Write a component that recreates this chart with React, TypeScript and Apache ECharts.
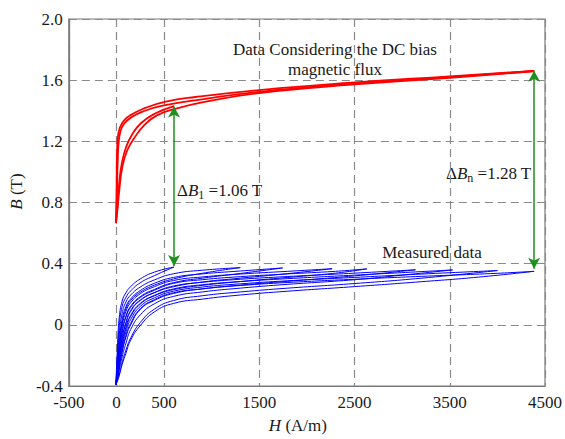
import React, { useEffect, useRef } from 'react';
import * as echarts from 'echarts';

// ---------- axis values ----------
const xTickValues = [-500, 0, 500, 1500, 2500, 3500, 4500];
const xMin = -500;
const xMax = 4500;
const yMin = -0.4;
const yMax = 2.0;
const yStep = 0.4;

// ---------- measured data (blue), [H, B] ----------
const blueL1u = [[-5, -0.39], [15, -0.09], [30, 0.05], [60, 0.155], [100, 0.21], [150, 0.25], [250, 0.3], [400, 0.345], [605, 0.378]];
const blueL1l = [[-5, -0.39], [15, -0.145], [30, -0.005], [60, 0.12], [100, 0.18], [150, 0.222], [250, 0.275], [400, 0.322], [605, 0.378]];
const blueL2u = [[-5, -0.39], [15, -0.195], [30, -0.06], [60, 0.075], [100, 0.15], [150, 0.195], [250, 0.247], [400, 0.294], [600, 0.334], [900, 0.357], [1300, 0.374]];
const blueL2l = [[-5, -0.39], [15, -0.245], [30, -0.13], [60, 0.01], [100, 0.105], [150, 0.159], [250, 0.213], [400, 0.26], [600, 0.3], [900, 0.337], [1300, 0.374]];
const blueL3u = [[-5, -0.39], [15, -0.23], [30, -0.105], [60, 0.035], [100, 0.12], [150, 0.17], [250, 0.224], [400, 0.272], [600, 0.31], [900, 0.333], [1300, 0.352], [1745, 0.372]];
const blueL3l = [[-5, -0.39], [15, -0.275], [30, -0.18], [60, -0.04], [100, 0.058], [150, 0.122], [250, 0.184], [400, 0.232], [600, 0.276], [900, 0.305], [1300, 0.336], [1745, 0.372]];
const blueL4u = [[-5, -0.39], [15, -0.258], [30, -0.15], [60, -0.01], [100, 0.088], [150, 0.145], [250, 0.203], [400, 0.25], [600, 0.29], [900, 0.313], [1300, 0.332], [1800, 0.35], [2265, 0.367]];
const blueL4l = [[-5, -0.39], [15, -0.3], [30, -0.22], [60, -0.09], [100, 0.01], [150, 0.088], [250, 0.159], [400, 0.21], [600, 0.249], [900, 0.28], [1300, 0.305], [1800, 0.335], [2265, 0.367]];
const blueL5u = [[-5, -0.39], [15, -0.28], [30, -0.19], [60, -0.055], [100, 0.05], [150, 0.115], [250, 0.178], [400, 0.226], [600, 0.271], [900, 0.295], [1300, 0.315], [1800, 0.333], [2300, 0.35], [2630, 0.366]];
const blueL5l = [[-5, -0.39], [15, -0.325], [30, -0.245], [60, -0.13], [100, -0.025], [150, 0.055], [250, 0.135], [400, 0.19], [600, 0.23], [900, 0.258], [1300, 0.283], [1800, 0.31], [2300, 0.338], [2630, 0.366]];
const blueL6u = [[-5, -0.39], [15, -0.295], [30, -0.215], [60, -0.085], [100, 0.015], [150, 0.095], [250, 0.162], [400, 0.212], [600, 0.254], [900, 0.278], [1300, 0.298], [1800, 0.316], [2500, 0.338], [3140, 0.36]];
const blueL6l = [[-5, -0.39], [15, -0.34], [30, -0.275], [60, -0.18], [100, -0.08], [150, 0.0], [250, 0.1], [400, 0.16], [600, 0.205], [900, 0.235], [1300, 0.26], [1800, 0.285], [2500, 0.32], [3140, 0.36]];
const blueL7u = [[-5, -0.39], [15, -0.32], [30, -0.24], [60, -0.12], [100, -0.015], [150, 0.063], [250, 0.14], [400, 0.193], [600, 0.235], [900, 0.262], [1300, 0.283], [1800, 0.302], [2500, 0.325], [3200, 0.348], [3530, 0.359]];
const blueL7l = [[-5, -0.39], [15, -0.34], [30, -0.295], [60, -0.21], [100, -0.12], [150, -0.03], [250, 0.065], [400, 0.138], [600, 0.186], [900, 0.215], [1300, 0.24], [1800, 0.265], [2500, 0.295], [3000, 0.325], [3530, 0.359]];
const blueL8u = [[-5, -0.39], [15, -0.33], [30, -0.258], [60, -0.15], [100, -0.045], [150, 0.035], [250, 0.12], [400, 0.177], [600, 0.22], [900, 0.247], [1300, 0.268], [1800, 0.288], [2500, 0.31], [3200, 0.332], [4000, 0.355]];
const blueL8l = [[-5, -0.39], [15, -0.355], [30, -0.325], [60, -0.245], [100, -0.165], [150, -0.085], [250, 0.015], [400, 0.103], [600, 0.159], [900, 0.19], [1300, 0.215], [1800, 0.24], [2500, 0.27], [3200, 0.305], [4000, 0.355]];
const blueL9u = [[-5, -0.39], [15, -0.335], [30, -0.27], [60, -0.17], [100, -0.07], [150, 0.01], [250, 0.105], [400, 0.165], [600, 0.21], [900, 0.235], [1300, 0.257], [1800, 0.277], [2500, 0.298], [3200, 0.317], [4000, 0.337], [4386, 0.35]];
const blueL9l = [[-5, -0.39], [15, -0.36], [30, -0.33], [60, -0.26], [100, -0.185], [150, -0.1], [250, -0.005], [400, 0.085], [600, 0.14], [900, 0.168], [1300, 0.195], [1800, 0.22], [2500, 0.25], [3200, 0.282], [3800, 0.312], [4386, 0.35]];

const blueCurves = [
  blueL1u, blueL1l, blueL2u, blueL2l, blueL3u, blueL3l, blueL4u, blueL4l, blueL5u,
  blueL5l, blueL6u, blueL6l, blueL7u, blueL7l, blueL8u, blueL8l, blueL9u, blueL9l,
];

// ---------- data considering the DC bias flux (red), [H, B] ----------
const redR1 = [[-5, 0.665], [0, 0.8], [3, 1.0], [8, 1.16], [20, 1.25], [59, 1.318], [145, 1.37], [311, 1.42], [519, 1.46], [831, 1.49], [1500, 1.535], [2500, 1.585], [3500, 1.625], [4386, 1.66]];
const redR2 = [[-5, 0.665], [3, 0.8], [8, 0.95], [14, 1.08], [22, 1.18], [40, 1.26], [75, 1.31], [150, 1.355], [300, 1.4], [500, 1.435], [900, 1.475], [1500, 1.524], [2500, 1.578], [3500, 1.62], [4386, 1.66]];
const redR3 = [[-5, 0.665], [10, 0.75], [30, 0.88], [61, 1.03], [113, 1.14], [186, 1.22], [290, 1.305], [425, 1.37], [602, 1.41], [900, 1.455], [1500, 1.516], [2500, 1.572], [3500, 1.615], [4386, 1.66]];
const redR4 = [[-5, 0.665], [10, 0.78], [28, 0.92], [55, 1.05], [100, 1.16], [165, 1.245], [260, 1.32], [400, 1.38], [605, 1.43]];

const redCurves = [redR1, redR2, redR3, redR4];

// ---------- delta-B arrows ----------
const arrow1 = [[605, 0.385], [605, 1.427]];
const arrow2 = [[4386, 0.366], [4386, 1.661]];

const serif = "'Liberation Serif', 'Times New Roman', Times, serif";
const textColor = '#1a1a1a';
const gridGray = '#8a8a8a';
const frameGray = '#7a7a7a';
const green = '#1f8f1f';

export default function App() {
  const ref = useRef<HTMLDivElement>(null);

  useEffect(() => {
    if (!ref.current) return;
    const chart = echarts.init(ref.current, undefined, { renderer: 'svg' });

    const series: any[] = [];
    blueCurves.forEach((d) => {
      series.push({
        type: 'line', data: d, showSymbol: false, symbol: 'none', smooth: 0.5,
        lineStyle: { color: '#0000ff', width: 1 }, silent: true, z: 3,
      });
    });
    redCurves.forEach((d) => {
      series.push({
        type: 'line', data: d, showSymbol: false, symbol: 'none', smooth: 0.5,
        lineStyle: { color: '#ff0000', width: 1.8 }, silent: true, z: 3,
      });
    });
    series.push({
      type: 'line', data: arrow1, showSymbol: false, symbol: 'none',
      lineStyle: { width: 0, opacity: 0 }, silent: true, z: 4,
      markLine: {
        silent: true, symbol: ['arrow', 'arrow'], symbolSize: [9, 11],
        label: { show: false },
        lineStyle: { color: green, width: 1.5, type: 'solid' },
        data: [
          [{ coord: arrow1[0] }, { coord: arrow1[1] }],
          [{ coord: arrow2[0] }, { coord: arrow2[1] }],
        ],
      },
    });

    const richBase = { fontFamily: serif, fontSize: 17, fill: textColor };
    const deltaRich = {
      i: { fontStyle: 'italic', fontFamily: serif, fontSize: 17, fill: textColor, lineHeight: 22 },
      s: { fontFamily: serif, fontSize: 12, fill: textColor, lineHeight: 12, verticalAlign: 'bottom' },
    };

    chart.setOption({
      animation: false,
      backgroundColor: '#ffffff',
      grid: { left: 67, right: 17, top: 19, bottom: 47, show: true, borderColor: frameGray, borderWidth: 1.2, containLabel: false },
      xAxis: {
        type: 'value', min: xMin, max: xMax, interval: 500,
        axisLine: { show: true, onZero: false, lineStyle: { color: frameGray, width: 1.2 } },
        axisTick: { show: false, customValues: xTickValues },
        axisLabel: { customValues: xTickValues, color: textColor, fontFamily: serif, fontSize: 17, margin: 8, formatter: (v: number) => String(v) },
        splitLine: { show: true, lineStyle: { color: gridGray, type: [8, 5], width: 1.2 } },
        name: '{i|H} (A/m)', nameLocation: 'middle', nameGap: 31,
        nameTextStyle: { fontFamily: serif, fontSize: 17, color: textColor, padding: [0, 18, 0, 0], rich: { i: { fontStyle: 'italic', fontFamily: serif, fontSize: 17, color: textColor } } },
      },
      yAxis: {
        type: 'value', min: yMin, max: yMax, interval: yStep,
        axisLine: { show: true, onZero: false, lineStyle: { color: frameGray, width: 1.2 } },
        axisTick: { show: false },
        axisLabel: {
          color: textColor, fontFamily: serif, fontSize: 17, margin: 6,
          formatter: (v: number) => (Math.abs(v) < 1e-9 ? '0' : v.toFixed(1)),
        },
        splitLine: { show: true, lineStyle: { color: gridGray, type: [8, 5], width: 1.2 } },
        name: '{i|B} (T)', nameLocation: 'middle', nameGap: 40,
        nameTextStyle: { fontFamily: serif, fontSize: 17, color: textColor, padding: [0, 0, 0, 22], rich: { i: { fontStyle: 'italic', fontFamily: serif, fontSize: 17, color: textColor } } },
      },
      graphic: [
        { type: 'text', x: 335, y: 49, silent: true, style: { text: 'Data Considering the DC bias', ...richBase, align: 'center', verticalAlign: 'middle' } },
        { type: 'text', x: 335, y: 69, silent: true, style: { text: 'magnetic flux', ...richBase, align: 'center', verticalAlign: 'middle' } },
        { type: 'text', x: 432, y: 252, silent: true, style: { text: 'Measured data', ...richBase, align: 'center', verticalAlign: 'middle' } },
        {
          type: 'text', x: 177, y: 190, silent: true,
          style: { text: 'Δ{i|B}{s|1} =1.06 T', ...richBase, lineHeight: 22, align: 'left', verticalAlign: 'middle', rich: deltaRich },
        },
        {
          type: 'text', x: 446, y: 173, silent: true,
          style: { text: 'Δ{i|B}{s|n} =1.28 T', ...richBase, lineHeight: 22, align: 'left', verticalAlign: 'middle', rich: deltaRich },
        },
      ],
      series,
    });

    return () => chart.dispose();
  }, []);

  return <div ref={ref} style={{ position: 'fixed', left: 0, top: 0, width: 565, height: 439, background: '#fff' }} />;
}
